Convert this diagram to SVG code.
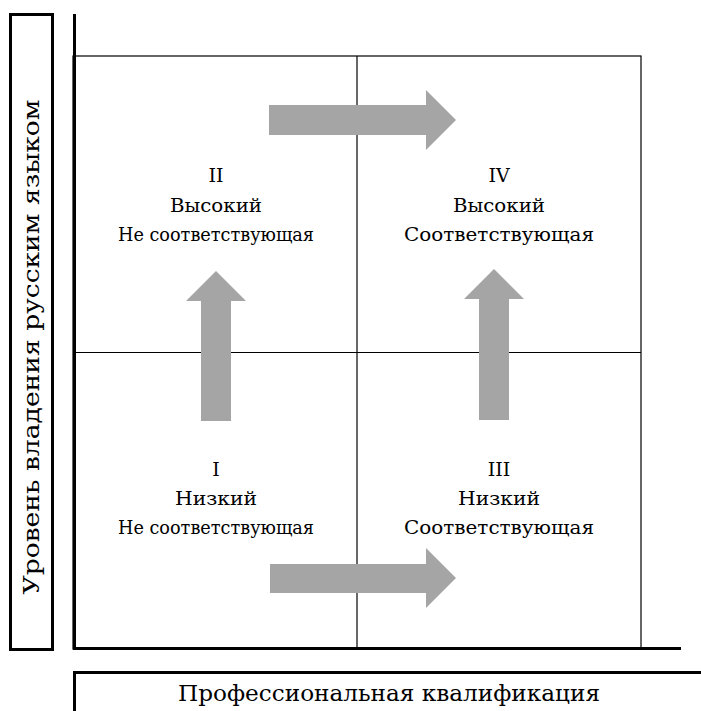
<svg xmlns="http://www.w3.org/2000/svg" width="701" height="711" viewBox="0 0 701 711">
<style>
.box{fill:none;stroke:#000;stroke-width:3}
.grid{fill:none;stroke:#000;stroke-width:1.2}
.axis{fill:none;stroke:#000;stroke-width:3}
.arrow{fill:#a5a5a5;stroke:none}
text{font-family:"DejaVu Serif",serif;fill:#000;text-anchor:middle}
.q{font-size:19px}
.lab{font-size:22px}
</style>
<rect width="701" height="711" fill="#fff"/>
<g id="y-label">
<rect class="box" x="10.5" y="14.5" width="42" height="635"/>
<text class="lab" transform="translate(39,347) rotate(-90)" textLength="495" lengthAdjust="spacingAndGlyphs">Уровень владения русским языком</text>
</g>
<g id="x-label">
<rect class="box" x="74.5" y="672.5" width="640" height="60"/>
<text class="lab" x="389" y="701" textLength="422" lengthAdjust="spacingAndGlyphs">Профессиональная квалификация</text>
</g>
<g id="grid">
<rect class="grid" x="73" y="56" width="568" height="593"/>
<line class="grid" x1="357" y1="56" x2="357" y2="649"/>
<line class="grid" x1="73" y1="352.5" x2="641" y2="352.5"/>
</g>
<g id="axes">
<line class="axis" x1="74.5" y1="14" x2="74.5" y2="650"/>
<line class="axis" x1="73" y1="648.5" x2="681" y2="648.5"/>
</g>
<g id="q2"><text class="q" x="216" y="182">II</text><text class="q" x="216" y="212" textLength="92" lengthAdjust="spacingAndGlyphs">Высокий</text><text class="q" x="216" y="241" textLength="196" lengthAdjust="spacingAndGlyphs">Не соответствующая</text></g>
<g id="q4"><text class="q" x="499" y="182">IV</text><text class="q" x="499" y="212" textLength="92" lengthAdjust="spacingAndGlyphs">Высокий</text><text class="q" x="499" y="241" textLength="190" lengthAdjust="spacingAndGlyphs">Соответствующая</text></g>
<g id="q1"><text class="q" x="216" y="476">I</text><text class="q" x="216" y="505" textLength="82" lengthAdjust="spacingAndGlyphs">Низкий</text><text class="q" x="216" y="534" textLength="196" lengthAdjust="spacingAndGlyphs">Не соответствующая</text></g>
<g id="q3"><text class="q" x="499" y="476">III</text><text class="q" x="499" y="505" textLength="82" lengthAdjust="spacingAndGlyphs">Низкий</text><text class="q" x="499" y="534" textLength="190" lengthAdjust="spacingAndGlyphs">Соответствующая</text></g>
<g id="connectors">
<polygon class="arrow" points="269,105 426,105 426,90 456,120 426,150 426,135 269,135"/>
<polygon class="arrow" points="270,564 426,564 426,548 456,578 426,608 426,593 270,593"/>
<polygon class="arrow" points="201,421 201,301 186,301 216,271 246,301 231,301 231,421"/>
<polygon class="arrow" points="479,420 479,299 464,299 494,269 524,299 509,299 509,420"/>
</g>
</svg>
